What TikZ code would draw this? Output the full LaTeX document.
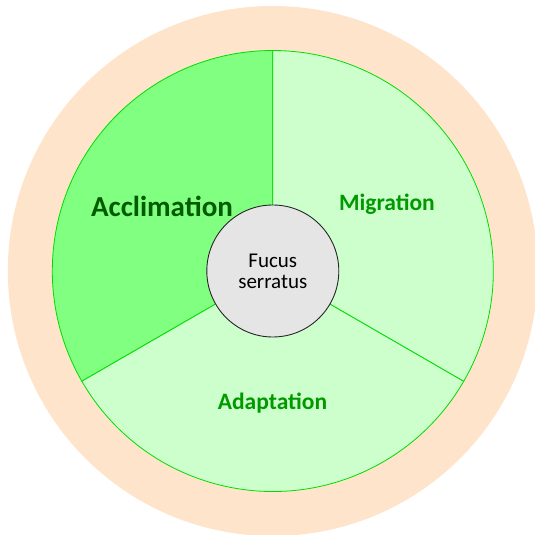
\documentclass[tikz,border=0pt]{standalone}
\usepackage{fontspec}
\setmainfont{Carlito}
\usetikzlibrary{positioning}
\definecolor{peach}{RGB}{255,228,204}
\definecolor{leafD}{RGB}{128,255,128}
\definecolor{leafL}{RGB}{204,255,204}
\definecolor{rimG}{RGB}{0,220,0}
\definecolor{labG}{RGB}{0,153,0}
\definecolor{labD}{RGB}{0,90,0}

\begin{document}
\begin{tikzpicture}[x=1pt, y=1pt,
  sector/.style={draw=rimG, line width=0.8pt},
  lab/.style={font=\bfseries\fontsize{23.5}{26}\selectfont, text=labG},
  core/.style={circle, draw=black!85, fill=black!10, line width=0.9pt, minimum size=132pt, inner sep=0, align=center, font=\fontsize{21}{21}\selectfont}]
  \useasboundingbox (0,0) rectangle (535,535);
  \coordinate (o) at (272.8,264);
  \fill[peach] (o) circle (265);
  % three sectors
  \filldraw[sector, fill=leafD] (o) -- ++(90:220.5) arc (90:210:220.5) -- cycle;
  \filldraw[sector, fill=leafL] (o) -- ++(210:220.5) arc (210:330:220.5) -- cycle;
  \filldraw[sector, fill=leafL] (o) -- ++(-30:220.5) arc (-30:90:220.5) -- cycle;
  \node[core] (fs) at (o) {Fucus\\serratus};
  \node[lab, text=labD, font=\bfseries\fontsize{29}{30}\selectfont] (acc) at (162,329) {Acclimation};
  \node[lab] (mig) at (387,331) {Migration};
  \node[lab] (ada) at (272.5,132) {Adaptation};
\end{tikzpicture}
\end{document}
